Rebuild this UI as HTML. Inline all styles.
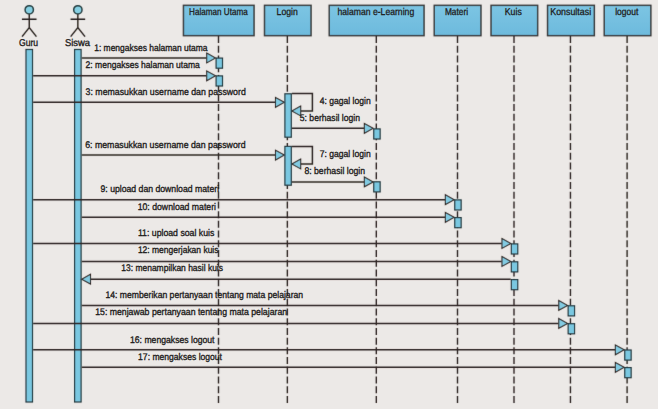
<!DOCTYPE html>
<html><head><meta charset="utf-8"><title>Sequence Diagram</title>
<style>
html,body{margin:0;padding:0;background:#ece9e7;}
svg{display:block;}
text{text-rendering:geometricPrecision;font-family:"Liberation Sans",sans-serif;font-size:9.6px;fill:#1e1c1b;stroke:#1e1c1b;stroke-width:0.35px;}
</style></head><body>
<svg width="658" height="409" viewBox="0 0 658 409"><defs><filter id="soft" x="-5%" y="-5%" width="110%" height="110%"><feConvolveMatrix order="3" kernelMatrix="0 1 0 1 10 1 0 1 0" edgeMode="none" preserveAlpha="false"/></filter><linearGradient id="bg" x1="0" y1="0" x2="0" y2="1"><stop offset="0" stop-color="#7cc5e3"/><stop offset="1" stop-color="#6dbadd"/></linearGradient></defs>
<rect width="658" height="409" fill="#ece9e7"/>
<g filter="url(#soft)">
<rect x="183.45" y="5.35" width="70.60" height="30.30" fill="url(#bg)" stroke="#3a3a3a" stroke-width="1.5"/>
<rect x="264.50" y="5.35" width="46.55" height="30.30" fill="url(#bg)" stroke="#3a3a3a" stroke-width="1.5"/>
<rect x="329.25" y="5.35" width="94.80" height="30.30" fill="url(#bg)" stroke="#3a3a3a" stroke-width="1.5"/>
<rect x="434.25" y="5.35" width="46.70" height="30.30" fill="url(#bg)" stroke="#3a3a3a" stroke-width="1.5"/>
<rect x="491.05" y="5.35" width="46.60" height="30.30" fill="url(#bg)" stroke="#3a3a3a" stroke-width="1.5"/>
<rect x="547.55" y="5.35" width="46.80" height="30.30" fill="url(#bg)" stroke="#3a3a3a" stroke-width="1.5"/>
<rect x="604.25" y="5.35" width="46.60" height="30.30" fill="url(#bg)" stroke="#3a3a3a" stroke-width="1.5"/>
<line x1="218.5" y1="36" x2="218.5" y2="403.4" stroke="#2f2622" stroke-width="1.4" stroke-dasharray="7 2.73"/>
<line x1="287.35" y1="36" x2="287.35" y2="403.4" stroke="#2f2622" stroke-width="1.4" stroke-dasharray="7 2.73"/>
<line x1="376.3" y1="36" x2="376.3" y2="403.4" stroke="#2f2622" stroke-width="1.4" stroke-dasharray="7 2.73"/>
<line x1="457.5" y1="36" x2="457.5" y2="403.4" stroke="#2f2622" stroke-width="1.4" stroke-dasharray="7 2.73"/>
<line x1="514.0" y1="36" x2="514.0" y2="403.4" stroke="#2f2622" stroke-width="1.4" stroke-dasharray="7 2.73"/>
<line x1="570.45" y1="36" x2="570.45" y2="403.4" stroke="#2f2622" stroke-width="1.4" stroke-dasharray="7 2.73"/>
<line x1="627.1" y1="36" x2="627.1" y2="403.4" stroke="#2f2622" stroke-width="1.4" stroke-dasharray="7 2.73"/>
<rect x="26.00" y="49.5" width="6.50" height="352.50" fill="#7ac8e1" stroke="#22343a" stroke-width="1.2"/>
<rect x="74.60" y="49.5" width="6.50" height="352.50" fill="#7ac8e1" stroke="#22343a" stroke-width="1.2"/>
</g>
<g>
<text x="94.20" y="50.70" textLength="113.40" lengthAdjust="spacingAndGlyphs">1: mengakses halaman utama</text>
<text x="85.60" y="68.00" textLength="114.20" lengthAdjust="spacingAndGlyphs">2: mengakses halaman utama</text>
<text x="85.60" y="94.90" textLength="160.20" lengthAdjust="spacingAndGlyphs">3: memasukkan username dan password</text>
<text x="319.80" y="103.50" textLength="50.90" lengthAdjust="spacingAndGlyphs">4: gagal login</text>
<text x="299.80" y="121.30" textLength="60.20" lengthAdjust="spacingAndGlyphs">5: berhasil login</text>
<text x="85.20" y="147.50" textLength="160.40" lengthAdjust="spacingAndGlyphs">6: memasukkan username dan password</text>
<text x="319.80" y="156.70" textLength="50.90" lengthAdjust="spacingAndGlyphs">7: gagal login</text>
<text x="304.40" y="173.90" textLength="60.60" lengthAdjust="spacingAndGlyphs">8: berhasil login</text>
<text x="100.50" y="191.70" textLength="118.60" lengthAdjust="spacingAndGlyphs">9: upload dan download materi</text>
<text x="137.70" y="209.70" textLength="78.30" lengthAdjust="spacingAndGlyphs">10: download materi</text>
<text x="137.90" y="235.80" textLength="76.40" lengthAdjust="spacingAndGlyphs">11: upload soal kuis</text>
<text x="137.90" y="253.30" textLength="80.60" lengthAdjust="spacingAndGlyphs">12: mengerjakan kuis</text>
<text x="121.30" y="270.90" textLength="101.70" lengthAdjust="spacingAndGlyphs">13: menampilkan hasil kuis</text>
<text x="105.50" y="298.00" textLength="197.60" lengthAdjust="spacingAndGlyphs">14: memberikan pertanyaan tentang mata pelajaran</text>
<text x="95.20" y="315.40" textLength="191.90" lengthAdjust="spacingAndGlyphs">15: menjawab pertanyaan tentang mata pelajaran</text>
<text x="130.00" y="342.50" textLength="84.50" lengthAdjust="spacingAndGlyphs">16: mengakses logout</text>
<text x="138.10" y="359.80" textLength="83.90" lengthAdjust="spacingAndGlyphs">17: mengakses logout</text>
<text x="19.00" y="45.90" textLength="19.10" lengthAdjust="spacingAndGlyphs" style="font-size:9.9px">Guru</text>
<text x="64.90" y="45.90" textLength="25.10" lengthAdjust="spacingAndGlyphs" style="font-size:9.9px">Siswa</text>
<text x="189.10" y="15.00" textLength="58.60" lengthAdjust="spacingAndGlyphs" style="font-size:9.9px;stroke-width:0.3px">Halaman Utama</text>
<text x="276.60" y="15.00" textLength="21.20" lengthAdjust="spacingAndGlyphs" style="font-size:9.9px;stroke-width:0.3px">Login</text>
<text x="337.40" y="15.00" textLength="76.80" lengthAdjust="spacingAndGlyphs" style="font-size:9.9px;stroke-width:0.3px">halaman e-Learning</text>
<text x="444.90" y="15.00" textLength="23.20" lengthAdjust="spacingAndGlyphs" style="font-size:9.9px;stroke-width:0.3px">Materi</text>
<text x="504.80" y="15.00" textLength="17.00" lengthAdjust="spacingAndGlyphs" style="font-size:9.9px;stroke-width:0.3px">Kuis</text>
<text x="550.30" y="15.00" textLength="40.80" lengthAdjust="spacingAndGlyphs" style="font-size:9.9px;stroke-width:0.3px">Konsultasi</text>
<text x="615.20" y="15.00" textLength="23.10" lengthAdjust="spacingAndGlyphs" style="font-size:9.9px;stroke-width:0.3px">logout</text>
</g>
<g filter="url(#soft)">
<line x1="81.70" y1="58.0" x2="206.50" y2="58.0" stroke="#2f2622" stroke-width="1.5"/>
<path d="M206.70,53.1 L215.50,58.0 L206.70,62.9 Z" fill="#82cbe2" stroke="#2f2622" stroke-width="1.1"/>
<line x1="33.10" y1="75.8" x2="206.50" y2="75.8" stroke="#2f2622" stroke-width="1.5"/>
<path d="M206.70,70.89999999999999 L215.50,75.8 L206.70,80.7 Z" fill="#82cbe2" stroke="#2f2622" stroke-width="1.1"/>
<line x1="33.10" y1="102.3" x2="275.30" y2="102.3" stroke="#2f2622" stroke-width="1.5"/>
<path d="M275.50,97.39999999999999 L284.30,102.3 L275.50,107.2 Z" fill="#82cbe2" stroke="#2f2622" stroke-width="1.1"/>
<line x1="291.90" y1="128.3" x2="364.15" y2="128.3" stroke="#2f2622" stroke-width="1.5"/>
<path d="M364.35,123.4 L373.15,128.3 L364.35,133.20000000000002 Z" fill="#82cbe2" stroke="#2f2622" stroke-width="1.1"/>
<line x1="81.70" y1="155.1" x2="275.30" y2="155.1" stroke="#2f2622" stroke-width="1.5"/>
<path d="M275.50,150.2 L284.30,155.1 L275.50,160.0 Z" fill="#82cbe2" stroke="#2f2622" stroke-width="1.1"/>
<line x1="291.90" y1="181.9" x2="364.15" y2="181.9" stroke="#2f2622" stroke-width="1.5"/>
<path d="M364.35,177.0 L373.15,181.9 L364.35,186.8 Z" fill="#82cbe2" stroke="#2f2622" stroke-width="1.1"/>
<line x1="33.10" y1="199.7" x2="445.15" y2="199.7" stroke="#2f2622" stroke-width="1.5"/>
<path d="M445.35,194.79999999999998 L454.15,199.7 L445.35,204.6 Z" fill="#82cbe2" stroke="#2f2622" stroke-width="1.1"/>
<line x1="81.70" y1="217.3" x2="445.15" y2="217.3" stroke="#2f2622" stroke-width="1.5"/>
<path d="M445.35,212.4 L454.15,217.3 L445.35,222.20000000000002 Z" fill="#82cbe2" stroke="#2f2622" stroke-width="1.1"/>
<line x1="33.10" y1="243.5" x2="501.75" y2="243.5" stroke="#2f2622" stroke-width="1.5"/>
<path d="M501.95,238.6 L510.75,243.5 L501.95,248.4 Z" fill="#82cbe2" stroke="#2f2622" stroke-width="1.1"/>
<line x1="81.70" y1="261.5" x2="501.75" y2="261.5" stroke="#2f2622" stroke-width="1.5"/>
<path d="M501.95,256.6 L510.75,261.5 L501.95,266.4 Z" fill="#82cbe2" stroke="#2f2622" stroke-width="1.1"/>
<line x1="81.70" y1="305.4" x2="558.55" y2="305.4" stroke="#2f2622" stroke-width="1.5"/>
<path d="M558.75,300.5 L567.55,305.4 L558.75,310.29999999999995 Z" fill="#82cbe2" stroke="#2f2622" stroke-width="1.1"/>
<line x1="33.10" y1="323.4" x2="558.55" y2="323.4" stroke="#2f2622" stroke-width="1.5"/>
<path d="M558.75,318.5 L567.55,323.4 L558.75,328.29999999999995 Z" fill="#82cbe2" stroke="#2f2622" stroke-width="1.1"/>
<line x1="33.10" y1="349.8" x2="615.15" y2="349.8" stroke="#2f2622" stroke-width="1.5"/>
<path d="M615.35,344.90000000000003 L624.15,349.8 L615.35,354.7 Z" fill="#82cbe2" stroke="#2f2622" stroke-width="1.1"/>
<line x1="81.70" y1="367.3" x2="615.15" y2="367.3" stroke="#2f2622" stroke-width="1.5"/>
<path d="M615.35,362.40000000000003 L624.15,367.3 L615.35,372.2 Z" fill="#82cbe2" stroke="#2f2622" stroke-width="1.1"/>
<line x1="510.75" y1="279.2" x2="90.70" y2="279.2" stroke="#2f2622" stroke-width="1.5"/>
<path d="M90.50,274.3 L81.70,279.2 L90.50,284.09999999999997 Z" fill="#82cbe2" stroke="#2f2622" stroke-width="1.1"/>
<polyline points="291.90,93.5 312.4,93.5 312.4,111.0 300.90,111.0" fill="none" stroke="#2f2622" stroke-width="1.5"/>
<path d="M300.70,106.1 L291.90,111.0 L300.70,115.9 Z" fill="#82cbe2" stroke="#2f2622" stroke-width="1.1"/>
<polyline points="291.90,146.5 312.4,146.5 312.4,164.0 300.90,164.0" fill="none" stroke="#2f2622" stroke-width="1.5"/>
<path d="M300.70,159.1 L291.90,164.0 L300.70,168.9 Z" fill="#82cbe2" stroke="#2f2622" stroke-width="1.1"/>
<rect x="216.10" y="58.10" width="6.40" height="10.10" fill="#7ac8e1" stroke="#22343a" stroke-width="1.2"/>
<rect x="216.10" y="75.90" width="6.40" height="10.10" fill="#7ac8e1" stroke="#22343a" stroke-width="1.2"/>
<rect x="284.90" y="93.80" width="6.40" height="43.40" fill="#7ac8e1" stroke="#22343a" stroke-width="1.2"/>
<rect x="284.90" y="146.40" width="6.40" height="38.80" fill="#7ac8e1" stroke="#22343a" stroke-width="1.2"/>
<rect x="373.75" y="128.90" width="6.40" height="10.10" fill="#7ac8e1" stroke="#22343a" stroke-width="1.2"/>
<rect x="373.75" y="181.80" width="6.40" height="10.10" fill="#7ac8e1" stroke="#22343a" stroke-width="1.2"/>
<rect x="454.75" y="199.90" width="6.40" height="10.10" fill="#7ac8e1" stroke="#22343a" stroke-width="1.2"/>
<rect x="454.75" y="217.60" width="6.40" height="10.10" fill="#7ac8e1" stroke="#22343a" stroke-width="1.2"/>
<rect x="511.35" y="243.90" width="6.40" height="10.10" fill="#7ac8e1" stroke="#22343a" stroke-width="1.2"/>
<rect x="511.35" y="261.80" width="6.40" height="10.10" fill="#7ac8e1" stroke="#22343a" stroke-width="1.2"/>
<rect x="511.35" y="279.60" width="6.40" height="10.10" fill="#7ac8e1" stroke="#22343a" stroke-width="1.2"/>
<rect x="568.15" y="305.80" width="6.40" height="10.10" fill="#7ac8e1" stroke="#22343a" stroke-width="1.2"/>
<rect x="568.15" y="323.70" width="6.40" height="10.10" fill="#7ac8e1" stroke="#22343a" stroke-width="1.2"/>
<rect x="624.75" y="350.00" width="6.40" height="10.10" fill="#7ac8e1" stroke="#22343a" stroke-width="1.2"/>
<rect x="624.75" y="367.60" width="6.40" height="10.10" fill="#7ac8e1" stroke="#22343a" stroke-width="1.2"/>
<circle cx="29.25" cy="9.8" r="4.15" fill="#86d0e3" stroke="#223a3c" stroke-width="1.5"/>
<path d="M29.25,14.3 V27.6 M21.95,19.3 H36.55 M22.05,36.6 L29.25,27.6 L36.45,36.6" fill="none" stroke="#251d1a" stroke-width="1.4"/>
<circle cx="77.85" cy="9.8" r="4.15" fill="#86d0e3" stroke="#223a3c" stroke-width="1.5"/>
<path d="M77.85,14.3 V27.6 M70.55,19.3 H85.14999999999999 M70.64999999999999,36.6 L77.85,27.6 L85.05,36.6" fill="none" stroke="#251d1a" stroke-width="1.4"/>
</g>
</svg>
</body></html>
